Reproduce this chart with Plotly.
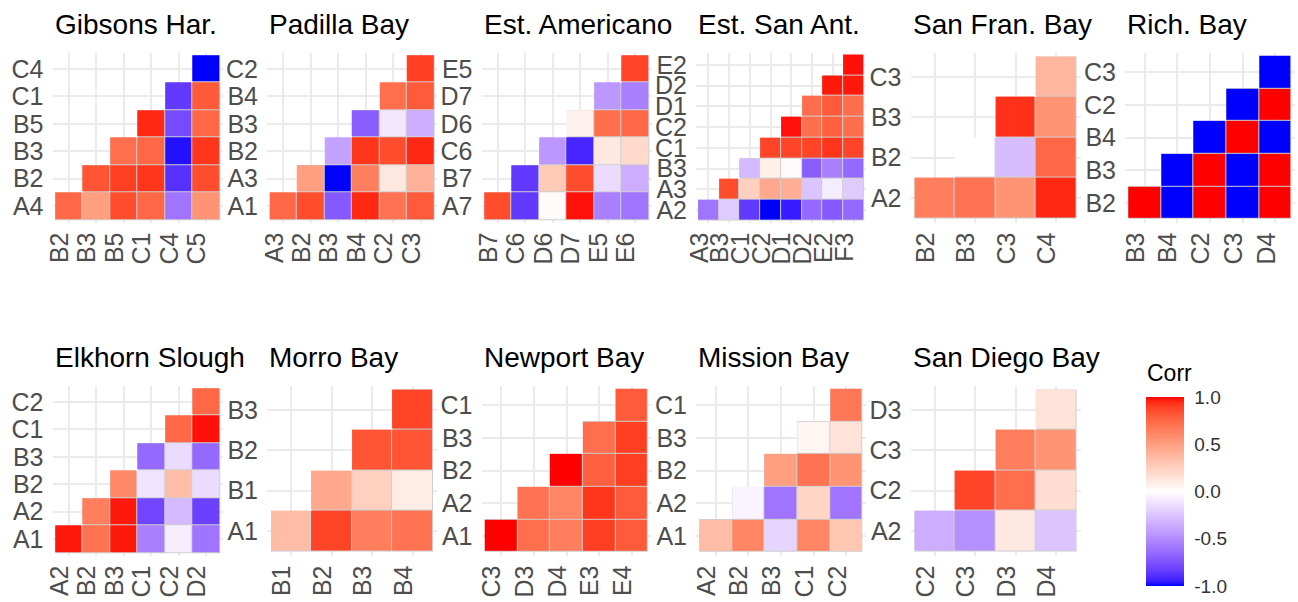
import plotly.graph_objects as go

# ---------------------------------------------------------------- data
GIBSONS_X = ["B2", "B3", "B5", "C1", "C4", "C5"]
GIBSONS_Y = ["A4", "B2", "B3", "B5", "C1", "C4"]
GIBSONS_Z = [
    [0.75, 0.50, 0.85, 0.75, -0.60, 0.55],
    [None, 0.82, 0.90, 0.92, -0.88, 0.85],
    [None, None, 0.72, 0.75, -0.97, 0.92],
    [None, None, None, 0.95, -0.78, 0.75],
    [None, None, None, None, -0.85, 0.80],
    [None, None, None, None, None, -1.00],
]

PADILLA_X = ["A3", "B2", "B3", "B4", "C2", "C3"]
PADILLA_Y = ["A1", "A3", "B2", "B3", "B4", "C2"]
PADILLA_Z = [
    [0.75, 0.85, -0.72, 0.95, 0.70, 0.80],
    [None, 0.50, -1.00, 0.65, 0.12, 0.40],
    [None, None, -0.40, 0.92, 0.85, 0.95],
    [None, None, None, -0.70, -0.10, -0.35],
    [None, None, None, None, 0.72, 0.80],
    [None, None, None, None, None, 0.90],
]

AMERICANO_X = ["B7", "C6", "D6", "D7", "E5", "E6"]
AMERICANO_Y = ["A7", "B7", "C6", "D6", "D7", "E5"]
AMERICANO_Z = [
    [0.85, -0.85, 0.02, 0.98, -0.55, -0.60],
    [None, -0.85, 0.28, 0.85, -0.15, -0.35],
    [None, None, -0.45, -0.92, 0.12, 0.20],
    [None, None, None, 0.07, 0.72, 0.75],
    [None, None, None, None, -0.45, -0.55],
    [None, None, None, None, None, 0.88],
]

SANANT_X = ["A3", "B3", "C1", "C2", "D1", "D2", "E2", "F3"]
SANANT_Y = ["A2", "A3", "B3", "C1", "C2", "D1", "D2", "E2"]
SANANT_Z = [
    [-0.60, -0.22, -0.85, -1.00, -0.95, -0.65, -0.72, -0.65],
    [None, 0.85, 0.25, 0.45, 0.42, -0.25, -0.08, -0.22],
    [None, None, -0.30, 0.08, 0.02, -0.70, -0.55, -0.65],
    [None, None, None, 0.88, 0.88, 0.88, 0.92, 0.88],
    [None, None, None, None, 0.98, 0.72, 0.78, 0.72],
    [None, None, None, None, None, 0.72, 0.80, 0.72],
    [None, None, None, None, None, None, 0.97, 0.97],
    [None, None, None, None, None, None, None, 0.98],
]

SANFRAN_X = ["B2", "B3", "C3", "C4"]
SANFRAN_Y = ["A2", "B2", "B3", "C3"]
SANFRAN_Z = [
    [0.65, 0.70, 0.55, 0.95],
    [None, 0.00, -0.28, 0.75],
    [None, None, 0.93, 0.55],
    [None, None, None, 0.38],
]

RICH_X = ["B3", "B4", "C2", "C3", "D4"]
RICH_Y = ["B2", "B3", "B4", "C2", "C3"]
RICH_Z = [
    [1.0, -1.0, 1.0, -1.0, 1.0],
    [None, -1.0, 1.0, -1.0, 1.0],
    [None, None, -1.0, 1.0, -1.0],
    [None, None, None, -1.0, 1.0],
    [None, None, None, None, -1.0],
]

ELKHORN_X = ["A2", "B2", "B3", "C1", "C2", "D2"]
ELKHORN_Y = ["A1", "A2", "B2", "B3", "C1", "C2"]
ELKHORN_Z = [
    [0.97, 0.70, 0.97, -0.55, -0.07, -0.60],
    [None, 0.65, 0.97, -0.80, -0.30, -0.82],
    [None, None, 0.60, -0.12, 0.35, -0.15],
    [None, None, None, -0.65, -0.15, -0.65],
    [None, None, None, None, 0.75, 0.98],
    [None, None, None, None, None, 0.75],
]

MORRO_X = ["B1", "B2", "B3", "B4"]
MORRO_Y = ["A1", "B1", "B2", "B3"]
MORRO_Z = [
    [0.35, 0.88, 0.65, 0.70],
    [None, 0.45, 0.25, 0.10],
    [None, None, 0.82, 0.82],
    [None, None, None, 0.88],
]

NEWPORT_X = ["C3", "D3", "D4", "E3", "E4"]
NEWPORT_Y = ["A1", "A2", "B2", "B3", "C1"]
NEWPORT_Z = [
    [1.00, 0.72, 0.65, 0.90, 0.80],
    [None, 0.70, 0.62, 0.92, 0.80],
    [None, None, 1.00, 0.78, 0.90],
    [None, None, None, 0.72, 0.90],
    [None, None, None, None, 0.80],
]

MISSION_X = ["A2", "B2", "B3", "C1", "C2"]
MISSION_Y = ["A1", "A2", "B2", "B3", "C1"]
MISSION_Z = [
    [0.35, 0.62, -0.18, 0.62, 0.30],
    [None, -0.05, -0.60, 0.22, -0.60],
    [None, None, 0.50, 0.70, 0.55],
    [None, None, None, 0.05, 0.15],
    [None, None, None, None, 0.68],
]

SANDIEGO_X = ["C2", "C3", "D3", "D4"]
SANDIEGO_Y = ["A2", "C2", "C3", "D3"]
SANDIEGO_Z = [
    [-0.35, -0.48, 0.12, -0.25],
    [None, 0.88, 0.72, 0.18],
    [None, None, 0.65, 0.55],
    [None, None, None, 0.15],
]

PANEL_TITLES = [
    "Gibsons Har.", "Padilla Bay", "Est. Americano", "Est. San Ant.",
    "San Fran. Bay", "Rich. Bay",
    "Elkhorn Slough", "Morro Bay", "Newport Bay", "Mission Bay", "San Diego Bay",
]
PANELS = [
    (GIBSONS_X, GIBSONS_Y, GIBSONS_Z),
    (PADILLA_X, PADILLA_Y, PADILLA_Z),
    (AMERICANO_X, AMERICANO_Y, AMERICANO_Z),
    (SANANT_X, SANANT_Y, SANANT_Z),
    (SANFRAN_X, SANFRAN_Y, SANFRAN_Z),
    (RICH_X, RICH_Y, RICH_Z),
    (ELKHORN_X, ELKHORN_Y, ELKHORN_Z),
    (MORRO_X, MORRO_Y, MORRO_Z),
    (NEWPORT_X, NEWPORT_Y, NEWPORT_Z),
    (MISSION_X, MISSION_Y, MISSION_Z),
    (SANDIEGO_X, SANDIEGO_Y, SANDIEGO_Z),
]
COLORBAR_TICKS = [-1.0, -0.5, 0.0, 0.5, 1.0]
COLORBAR_TITLE = "Corr"


# ------------------------------------------------ blue-white-red in CIELAB
def _lin(c):
    c = c / 255.0
    return c / 12.92 if c <= 0.04045 else ((c + 0.055) / 1.055) ** 2.4


def _delin(c):
    c = 12.92 * c if c <= 0.0031308 else 1.055 * c ** (1 / 2.4) - 0.055
    return max(0, min(255, round(c * 255)))


WHITE_REF = (0.95047, 1.0, 1.08883)


def rgb_to_lab(rgb):
    r, g, b = (_lin(v) for v in rgb)
    x = 0.4124564 * r + 0.3575761 * g + 0.1804375 * b
    y = 0.2126729 * r + 0.7151522 * g + 0.0721750 * b
    z = 0.0193339 * r + 0.1191920 * g + 0.9503041 * b

    def f(t):
        return t ** (1 / 3) if t > 216 / 24389 else (24389 / 27 * t + 16) / 116

    fx, fy, fz = f(x / WHITE_REF[0]), f(y / WHITE_REF[1]), f(z / WHITE_REF[2])
    return (116 * fy - 16, 500 * (fx - fy), 200 * (fy - fz))


def lab_to_rgb(lab):
    L, a, bb = lab
    fy = (L + 16) / 116
    fx = fy + a / 500
    fz = fy - bb / 200

    def finv(t):
        return t ** 3 if t ** 3 > 216 / 24389 else (116 * t - 16) / (24389 / 27)

    x, y, z = finv(fx) * WHITE_REF[0], finv(fy) * WHITE_REF[1], finv(fz) * WHITE_REF[2]
    r = 3.2404542 * x - 1.5371385 * y - 0.4985314 * z
    g = -0.9692660 * x + 1.8760108 * y + 0.0415560 * z
    b = 0.0556434 * x - 0.2040259 * y + 1.0572252 * z
    return tuple(_delin(max(0.0, v)) for v in (r, g, b))


def lab_scale(low, mid, high, steps=40):
    lo, md, hi = rgb_to_lab(low), rgb_to_lab(mid), rgb_to_lab(high)
    stops = []
    for k in range(steps + 1):
        t = k / steps
        if t <= 0.5:
            a, b, u = lo, md, t / 0.5
        else:
            a, b, u = md, hi, (t - 0.5) / 0.5
        lab = tuple(a[i] + (b[i] - a[i]) * u for i in range(3))
        r, g, bl = lab_to_rgb(lab)
        stops.append([t, f"rgb({r},{g},{bl})"])
    return stops


CORR_SCALE = lab_scale((0, 0, 255), (255, 255, 255), (255, 0, 0))

# ---------------------------------------------------------------- layout
W, H = 1298, 602
FONT = "Liberation Sans, Arial, sans-serif"
PANEL = 170.0
COL_CENTERS = [137.5, 352.0, 566.5, 781.0, 995.5, 1210.0]
ROW_CENTERS = [137.5, 470.5]
EXPAND = 0.1

fig = go.Figure()
layout = dict(
    width=W, height=H,
    margin=dict(l=0, r=0, t=0, b=0),
    paper_bgcolor="white", plot_bgcolor="white",
    showlegend=False,
    font=dict(family=FONT),
    coloraxis=dict(
        colorscale=CORR_SCALE, cmin=-1, cmax=1,
        colorbar=dict(
            x=1146 / W, xanchor="left", xpad=0,
            y=1 - 586 / H, yanchor="bottom", ypad=0,
            len=(586 - 397) / H, lenmode="fraction",
            thickness=38, thicknessmode="pixels",
            outlinewidth=0,
            tickmode="array", tickvals=COLORBAR_TICKS,
            ticktext=[f"{v:.1f}" for v in COLORBAR_TICKS],
            ticks="outside", ticklen=7, tickwidth=1, tickcolor="white",
            tickfont=dict(size=19, color="#333333", family=FONT),
        ),
    ),
)

annotations = []
for i, ((xs, ys, zs), title) in enumerate(zip(PANELS, PANEL_TITLES)):
    row, col = (0, i) if i < 6 else (1, i - 6)
    cx, cy = COL_CENTERS[col], ROW_CENTERS[row]
    left, right = cx - PANEL / 2, cx + PANEL / 2
    top, bottom = cy - PANEL / 2, cy + PANEL / 2
    n = len(xs)
    suffix = "" if i == 0 else str(i + 1)

    # grey underlay shows through the tile gaps as thin cell outlines
    mask = [[None if v is None else 1 for v in r] for r in zs]
    fig.add_trace(go.Heatmap(
        x=xs, y=ys, z=mask, xaxis="x" + suffix, yaxis="y" + suffix,
        colorscale=[[0, "#cfcfcf"], [1, "#cfcfcf"]], showscale=False,
        hoverinfo="skip",
    ))
    fig.add_trace(go.Heatmap(
        x=xs, y=ys, z=zs, xaxis="x" + suffix, yaxis="y" + suffix,
        coloraxis="coloraxis", xgap=1, ygap=1,
        hovertemplate="%{x} / %{y}: %{z:.2f}<extra></extra>",
    ))

    axis_common = dict(
        type="category", showgrid=True, gridcolor="#EBEBEB", gridwidth=1.6,
        zeroline=False, showline=False, ticks="", automargin=False,
        tickfont=dict(size=25, color="#4D4D4D", family=FONT),
    )
    layout["xaxis" + suffix] = dict(
        axis_common, domain=[left / W, right / W], anchor="y" + suffix,
        range=[-0.5 - EXPAND, n - 0.5 + EXPAND],
        tickmode="array", tickvals=xs, ticktext=xs, tickangle=-90,
        categoryorder="array", categoryarray=xs,
        ticklabelstandoff=4, ticklabelshift=-9,
    )
    layout["yaxis" + suffix] = dict(
        axis_common, domain=[1 - bottom / H, 1 - top / H], anchor="x" + suffix,
        range=[-0.5 - EXPAND, len(ys) - 0.5 + EXPAND],
        tickmode="array", tickvals=ys, ticktext=ys,
        categoryorder="array", categoryarray=ys, ticklabelstandoff=8,
    )

    title_y = 25 if row == 0 else 357
    annotations.append(dict(
        text=title, xref="paper", yref="paper",
        x=left / W, y=1 - title_y / H, xanchor="left", yanchor="middle",
        showarrow=False, font=dict(size=28, color="black", family=FONT),
    ))

annotations.append(dict(
    text=COLORBAR_TITLE, xref="paper", yref="paper",
    x=1145 / W, y=1 - 373 / H, xanchor="left", yanchor="middle",
    showarrow=False, font=dict(size=23, color="black", family=FONT),
))
layout["annotations"] = annotations

fig.update_layout(**layout)
fig.write_html("out.html")
